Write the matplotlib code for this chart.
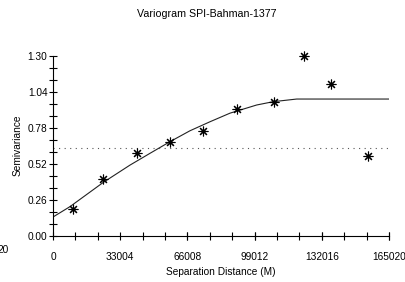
import matplotlib
matplotlib.use('Agg')
import matplotlib.pyplot as plt
import numpy as np

plt.rcParams['font.family'] = ['Liberation Sans', 'DejaVu Sans']

# experimental semivariogram points
lag = [9970, 24700, 41100, 57460, 73800, 90200, 108540, 123270, 136530, 154700]
gamma = [0.19, 0.41, 0.60, 0.68, 0.756, 0.913, 0.965, 1.297, 1.093, 0.575]

# fitted model curve
model_x = [0, 8350, 24700, 37820, 47640, 57460, 67290, 77110, 86930,
           100040, 108200, 119690, 165020]
model_y = [0.135, 0.21, 0.385, 0.51, 0.595, 0.679, 0.758, 0.823, 0.885,
           0.944, 0.968, 0.987, 0.987]

# sample variance level
variance = 0.635

xticks = [0, 33004, 66008, 99012, 132016, 165020]
yticks = [0.00, 0.26, 0.52, 0.78, 1.04, 1.30]

W, H = 406, 282
fig = plt.figure(figsize=(W / 100, H / 100), dpi=100)
ax = fig.add_axes([53 / W, 1 - 235.7 / H, 336 / W, 180 / H])

ax.plot(model_x, model_y, color='#222222', lw=0.8)
ax.axhline(variance, color='#555555', lw=0.8, ls=(0, (1, 4)))
ax.plot(lag, gamma, ls='none', marker=(8, 2, 0), ms=7, mew=0.8,
        color='black', clip_on=False)

ax.set_xlim(0, 165020)
ax.set_ylim(0, 1.30)
ax.set_xticks(xticks)
ax.set_xticklabels([str(v) for v in xticks])
ax.set_xticks(np.arange(0, 165021, 11001), minor=True)
ax.set_yticks(yticks)
ax.set_yticklabels(['%.2f' % v for v in yticks])
ax.set_yticks(np.arange(0, 1.31, 0.26 / 3), minor=True)

for s in ['top', 'right']:
    ax.spines[s].set_visible(False)
for s in ['left', 'bottom']:
    ax.spines[s].set_linewidth(0.8)

ax.tick_params(axis='both', which='both', direction='inout', length=6,
               width=0.8, labelsize=7.3)
ax.tick_params(axis='y', which='both', pad=1)
ax.tick_params(axis='x', which='both', pad=9)

ax.set_xlabel('Separation Distance (M)', fontsize=7.3, labelpad=3)
ax.set_ylabel('Semivariance', fontsize=7.3, labelpad=4)
fig.text(207 / W, 1 - 14 / H, 'Variogram SPI-Bahman-1377', fontsize=7.7,
         ha='center', va='center')
fig.text(9 / W, 1 - 250 / H, '20', fontsize=7.3, ha='right', va='center')

fig.savefig('out.png', dpi=100)
